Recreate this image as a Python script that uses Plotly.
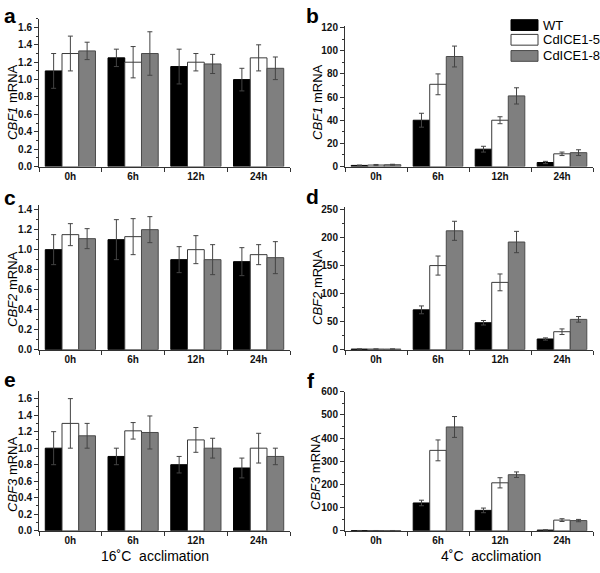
import plotly.graph_objects as go
from plotly.subplots import make_subplots

times = ["0h", "6h", "12h", "24h"]
series = ["WT", "CdICE1-5", "CdICE1-8"]

# panel a: CBF1, 16C
a_wt = [1.10, 1.25, 1.15, 1.00]
a_wt_err = [0.20, 0.10, 0.20, 0.13]
a_c5 = [1.30, 1.20, 1.20, 1.25]
a_c5_err = [0.20, 0.18, 0.10, 0.15]
a_c8 = [1.33, 1.30, 1.18, 1.13]
a_c8_err = [0.10, 0.25, 0.11, 0.13]

# panel b: CBF1, 4C
b_wt = [1.0, 40, 15, 3.5]
b_wt_err = [0.3, 6, 2.5, 1]
b_c5 = [1.3, 71, 40, 11]
b_c5_err = [0.5, 9, 3, 1.5]
b_c8 = [1.6, 95, 61, 12]
b_c8_err = [0.4, 9, 7, 2.5]

# panel c: CBF2, 16C
c_wt = [1.00, 1.10, 0.90, 0.88]
c_wt_err = [0.15, 0.20, 0.13, 0.14]
c_c5 = [1.15, 1.13, 1.00, 0.95]
c_c5_err = [0.11, 0.18, 0.14, 0.10]
c_c8 = [1.11, 1.20, 0.90, 0.92]
c_c8_err = [0.10, 0.13, 0.15, 0.16]

# panel d: CBF2, 4C
d_wt = [1, 71, 48, 19]
d_wt_err = [0.2, 7, 4, 2]
d_c5 = [1, 150, 120, 32]
d_c5_err = [0.2, 17, 15, 5]
d_c8 = [1, 212, 192, 54]
d_c8_err = [0.2, 17, 19, 5]

# panel e: CBF3, 16C
e_wt = [1.00, 0.90, 0.80, 0.76]
e_wt_err = [0.20, 0.10, 0.10, 0.12]
e_c5 = [1.30, 1.21, 1.10, 1.00]
e_c5_err = [0.30, 0.10, 0.15, 0.18]
e_c8 = [1.15, 1.19, 1.00, 0.90]
e_c8_err = [0.15, 0.20, 0.12, 0.10]

# panel f: CBF3, 4C
f_wt = [1, 120, 88, 3]
f_wt_err = [0.2, 12, 10, 1]
f_c5 = [1, 347, 207, 46]
f_c5_err = [0.2, 45, 22, 6]
f_c8 = [1, 448, 242, 44]
f_c8_err = [0.2, 45, 12, 5]

panel_letters = ["a", "b", "c", "d", "e", "f"]
gene_names = ["CBF1", "CBF1", "CBF2", "CBF2", "CBF3", "CBF3"]
y_ranges = [1.7, 121.7, 1.449, 255, 1.695, 600]
y_dticks = [0.2, 20, 0.2, 50, 0.2, 100]
y_formats = [".1f", "d", ".1f", "d", ".1f", "d"]
bottom_labels = ["16˚C  acclimation", "4˚C  acclimation"]

panel_data = [
    (a_wt, a_wt_err, a_c5, a_c5_err, a_c8, a_c8_err),
    (b_wt, b_wt_err, b_c5, b_c5_err, b_c8, b_c8_err),
    (c_wt, c_wt_err, c_c5, c_c5_err, c_c8, c_c8_err),
    (d_wt, d_wt_err, d_c5, d_c5_err, d_c8, d_c8_err),
    (e_wt, e_wt_err, e_c5, e_c5_err, e_c8, e_c8_err),
    (f_wt, f_wt_err, f_c5, f_c5_err, f_c8, f_c8_err),
]

W, H = 600, 573
# pixel boxes: (x0, x1, ytop, ybottom)
boxes = [
    (39, 290, 13, 164),
    (345, 593, 20, 164),
    (39, 290, 203, 351),
    (345, 593, 205, 351),
    (39, 290, 393, 536),
    (345, 593, 394, 536),
]

fills = ["#000000", "#ffffff", "#7f7f7f"]
edges = ["#000000", "#3a3a3a", "#4a4a4a"]
FONT = "Liberation Sans, Arial, sans-serif"

fig = make_subplots(rows=3, cols=2)

for i, pdata in enumerate(panel_data):
    r, c = i // 2 + 1, i % 2 + 1
    for s in range(3):
        vals, errs = pdata[2 * s], pdata[2 * s + 1]
        fig.add_trace(go.Bar(
            x=times, y=vals, name=series[s],
            marker=dict(color=fills[s], line=dict(color=edges[s], width=1)),
            error_y=dict(type="data", array=errs, visible=True,
                         color="#444444", thickness=1, width=2.5),
            showlegend=False, legendgroup=series[s],
        ), row=r, col=c)

for i in range(6):
    x0, x1, yt, yb = boxes[i]
    xa = "xaxis" if i == 0 else f"xaxis{i+1}"
    ya = "yaxis" if i == 0 else f"yaxis{i+1}"
    fig.layout[xa].update(
        domain=[x0 / W, x1 / W], type="category", range=[-0.5, 3.5],
        showline=True, linecolor="#333333", linewidth=1,
        ticks="outside", tickson="boundaries", ticklen=4, tickcolor="#333333",
        tickfont=dict(family=FONT, size=10, color="#111111", weight="bold"),
        showgrid=False, zeroline=False,
    )
    fig.layout[ya].update(
        domain=[1 - yb / H, 1 - yt / H], range=[0, y_ranges[i]],
        dtick=y_dticks[i], tick0=0, tickformat=y_formats[i],
        showline=True, linecolor="#333333", linewidth=1,
        ticks="outside", ticklen=4, tickcolor="#333333",
        minor=dict(dtick=y_dticks[i] / 2, ticks="outside", ticklen=2, tickcolor="#333333"),
        tickfont=dict(family=FONT, size=10, color="#111111", weight="bold"),
        showgrid=False, zeroline=False,
    )

annotations = []
shapes = []
letter_pos = [(10, 10), (312, 10), (10, 196), (312, 195), (10, 381), (311, 382)]
title_pos = [(13, 99), (318, 99), (13, 290), (318, 288), (13, 479), (315, 477)]
for i in range(6):
    lx, ly = letter_pos[i]
    annotations.append(dict(
        x=lx / W, y=1 - ly / H, xref="paper", yref="paper",
        text=panel_letters[i], showarrow=False, xanchor="center", yanchor="middle",
        font=dict(family=FONT, size=21, color="#000000", weight="bold"),
    ))
    tx, ty = title_pos[i]
    annotations.append(dict(
        x=tx / W, y=1 - ty / H, xref="paper", yref="paper",
        text=f"<i>{gene_names[i]}</i> mRNA", showarrow=False, textangle=-90,
        xanchor="center", yanchor="middle",
        font=dict(family=FONT, size=13, color="#000000"),
    ))
for j, (bx, by) in enumerate([(155, 562), (491, 562)]):
    annotations.append(dict(
        x=bx / W, y=1 - by / H, xref="paper", yref="paper",
        text=bottom_labels[j], showarrow=False, xanchor="center", yanchor="middle",
        font=dict(family=FONT, size=14, color="#000000"),
    ))

# legend (drawn manually to match the wide rectangular swatches)
legend_rows = [19.5, 34.5, 51]
for s in range(3):
    cy = legend_rows[s]
    shapes.append(dict(
        type="rect", xref="paper", yref="paper",
        x0=511 / W, x1=538 / W, y0=1 - (cy + 5.5) / H, y1=1 - (cy - 5.5) / H,
        fillcolor=fills[s], line=dict(color=edges[s] if s else "#000000", width=1),
    ))
    annotations.append(dict(
        x=541 / W, y=1 - cy / H, xref="paper", yref="paper",
        text=series[s], showarrow=False, xanchor="left", yanchor="middle",
        font=dict(family=FONT, size=13, color="#000000"),
    ))

fig.update_layout(
    width=W, height=H, autosize=False,
    margin=dict(l=0, r=0, t=0, b=0),
    paper_bgcolor="white", plot_bgcolor="white",
    barmode="group", bargap=0.2, bargroupgap=0,
    annotations=annotations, shapes=shapes,
    showlegend=False,
)

fig.write_html(
    "out.html",
    config={"displayModeBar": False},
    post_script="document.body.style.margin='0';document.body.style.overflow='hidden';",
)
